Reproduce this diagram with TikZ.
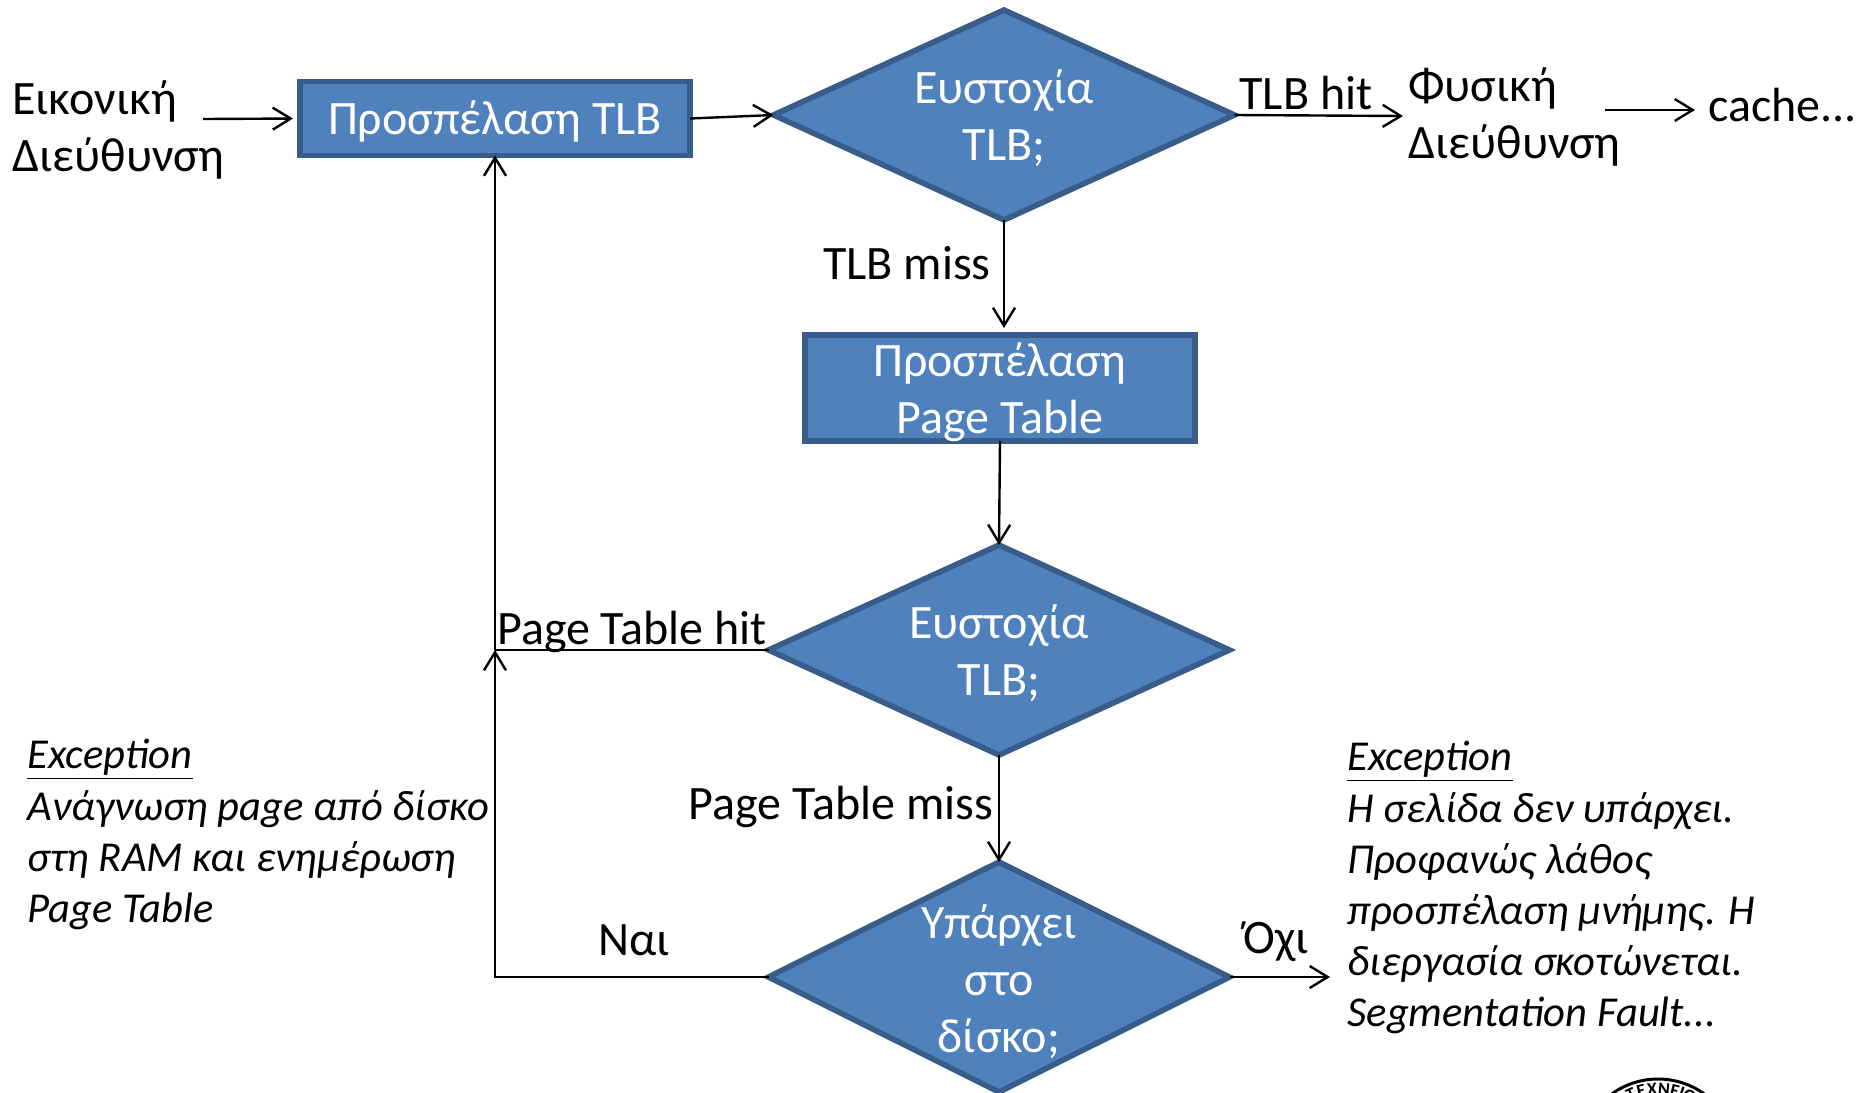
\documentclass[tikz,border=0pt]{standalone}
\usepackage{fontspec}
\setmainfont{Carlito}
\usetikzlibrary{arrows.meta,shapes.geometric}
\definecolor{boxfill}{HTML}{4F81BD}
\definecolor{boxline}{HTML}{385D8A}
\tikzset{
  >={Straight Barb[length=9pt,width=11pt,line width=1.2pt]},
  conn/.style={draw=black,line width=1.2pt},
  procbox/.style={rectangle,draw=boxline,fill=boxfill,line width=2.8pt,outer sep=0pt,inner sep=0pt},
  decbox/.style={diamond,draw=boxline,fill=boxfill,line width=2.8pt,outer sep=0pt,inner sep=0pt,aspect=2.0,minimum width=230.5pt,minimum height=105pt},
  declabel/.style={text=white,align=center,inner sep=0pt,font=\fontsize{24pt}{28.5pt}\selectfont},
  plain/.style={inner sep=0pt,align=left,font=\fontsize{24pt}{28.5pt}\selectfont},
  note/.style={inner sep=0pt,align=left,font=\fontsize{21.3pt}{25.6pt}\selectfont\itshape},
  sealtext/.style={inner sep=0pt,font=\fontsize{9pt}{9pt}\selectfont\bfseries},
}
\begin{document}
\begin{tikzpicture}[x=0.5pt,y=-0.5pt]
\useasboundingbox (0,0) rectangle (1860,1093);
% nodes
\node[plain,anchor=west] (va) at (12,130) {Εικονική\\Διεύθυνση};
\node[procbox,minimum width=195pt,minimum height=37pt,label={[declabel,yshift=-1.5pt]center:Προσπέλαση TLB}] (tlb) at (495,118.5) {};
\node[decbox,label={[declabel,yshift=-1.8pt]center:Ευστοχία\\TLB;}] (d1) at (1004,115) {};
\node[plain,anchor=west] (pa) at (1408,117) {Φυσική\\Διεύθυνση};
\node[plain,anchor=west] (cache) at (1708,105) {cache...};
\node[procbox,minimum width=195pt,minimum height=53pt,label={[declabel,yshift=-1.9pt]center:Προσπέλαση\\Page Table}] (pt) at (1000,388) {};
\node[decbox,label={[declabel,yshift=-1.8pt]center:Ευστοχία\\TLB;}] (d2) at (999,650) {};
\node[decbox,minimum height=115pt,label={[declabel,yshift=-2.2pt]center:Υπάρχει\\στο\\δίσκο;}] (d3) at (999,977) {};
% free ends
\coordinate (vaout) at (203,119);
\coordinate (paout) at (1605,110);
\coordinate (cachein) at (1695,110);
\coordinate (pain) at (1403,116);
\coordinate (join) at (495,650);
\coordinate (corner) at (495,977);
\coordinate (noend) at (1330,977);
% connectors
\draw[conn,->,shorten >=3.5pt] (vaout) -- (tlb.west);
\draw[conn,->] (tlb.east) -- (d1.west);
\draw[conn,->] (d1.east) -- (pain);
\draw[conn,->] (paout) -- (cachein);
\draw[conn,->,shorten >=3.5pt] (d1.south) -- (d1.south |- pt.north);
\draw[conn,->] (pt.south) -- (d2.north);
\draw[conn,->] (d2.south) -- (d3.north);
\draw[conn] (d2.west) -- (join);
\draw[conn,->] (d3.west) -- (corner) -- (join);
\draw[conn,->] (join) -- (tlb.south);
\draw[conn,->] (d3.east) -- (noend);
% connector labels
\node[plain] (lhit) at (1306,93) {TLB hit};
\node[plain] (lmiss) at (907,263) {TLB miss};
\node[plain] (lpthit) at (632,632) {Page Table hit};
\node[plain] (lptmiss) at (841,807) {Page Table miss};
\node[plain] (lyes) at (634,940) {Ναι};
\node[plain] (lno) at (1276,942) {Όχι};
% notes
\node[note,anchor=north west] (ex1) at (27,739) {\underline{Exception}\\Ανάγνωση page από δίσκο\\στη RAM και ενημέρωση\\Page Table};
\node[note,anchor=north west] (ex2) at (1347,741) {\underline{Exception}\\Η σελίδα δεν υπάρχει.\\Προφανώς λάθος\\προσπέλαση μνήμης. Η\\διεργασία σκοτώνεται.\\Segmentation Fault...};
% seal
\begin{scope}
\clip (1560,1040) rectangle (1760,1093);
\draw[line width=1.5pt] (1658,1158) circle[radius=79];
\foreach \a/\l [count=\i] in {-23/Τ,-14/Ε,-5/Χ,5/Ν,14/Ε,20/Ι,27/Ο}{
  \node[sealtext,rotate=-\a,name=seal\i] at ({1658+69*sin(\a)},{1158-69*cos(\a)}) {\l};
}
\end{scope}
\end{tikzpicture}
\end{document}
